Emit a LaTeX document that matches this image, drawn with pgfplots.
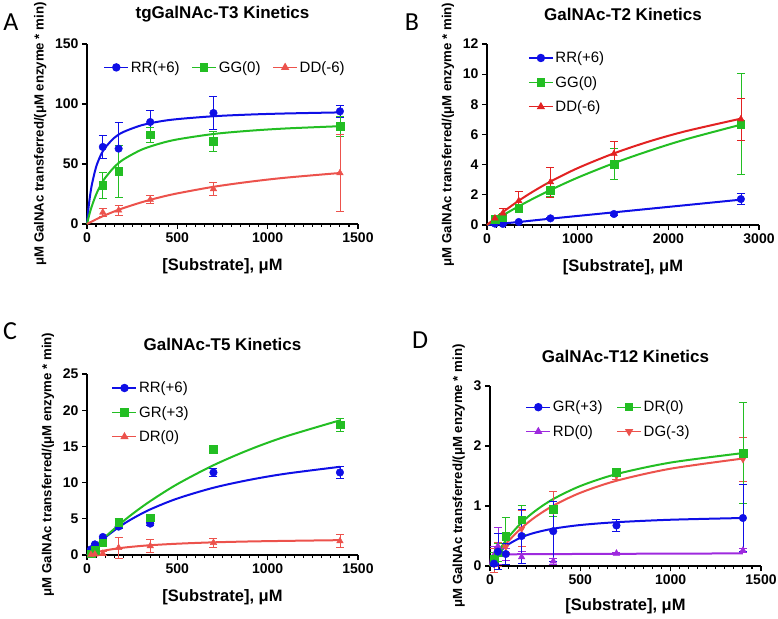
\documentclass[border=0pt]{standalone}
\usepackage{fontspec}
\setmainfont{Liberation Sans}
\newfontfamily\letterfont{Carlito}
\usepackage{pgfplots}
\pgfplotsset{compat=1.18}

\definecolor{cblue}{RGB}{15,15,230}
\definecolor{cgreen}{RGB}{35,190,35}
\definecolor{cred}{RGB}{236,82,76}
\definecolor{cdred}{RGB}{226,34,34}
\definecolor{cpurple}{RGB}{158,42,222}

\pgfplotsset{
  kin/.style={
    scale only axis,
    anchor=south west,
    axis x line*=bottom, axis y line*=left,
    axis line style={line width=1.4pt},
    tick align=outside,
    major tick length=5pt, minor tick length=3pt,
    every tick/.style={black, line width=1.1pt},
    minor x tick num=9, minor y tick num=0,
    xmin=0, ymin=0,
    ticklabel style={font=\bfseries\fontsize{14}{16}\selectfont},
    /pgf/number format/assume math mode=true,
    /pgf/number format/1000 sep={},
    xlabel={[Substrate], μM},
    ylabel={μM GalNAc transferred/(μM enzyme * min)},
    xlabel style={font=\bfseries\fontsize{16.5}{18}\selectfont, yshift=-9pt},
    ylabel style={font=\bfseries\fontsize{13.2}{15}\selectfont, yshift=2pt},
    title style={font=\bfseries\fontsize{17}{19}\selectfont, at={(0.5,1)}, anchor=center, yshift=24pt},
    legend style={draw=none, fill=none, font=\fontsize{15}{17}\selectfont,
      /tikz/row sep=8pt},
    legend cell align=left,
    legend image code/.code={\draw[mark repeat=2,mark phase=2,#1] plot coordinates {(0pt,0pt) (12pt,0pt) (24pt,0pt)};},
    clip=false,
  },
  curve/.style={line width=2pt, smooth, no marks, forget plot},
  pts/.style={only marks, forget plot, mark size=3.8pt,
    error bars/y dir=both, error bars/y explicit,
    error bars/error bar style={line width=0.7pt},
    error bars/error mark options={rotate=90, mark size=4pt, line width=0.7pt}},
  leg/.style={line width=1.2pt, mark size=3.6pt},
}

\begin{document}
\begin{tikzpicture}
\useasboundingbox (0,0) rectangle (778pt,618pt);

% panel letters
\node[font=\letterfont\fontsize{26}{28}\selectfont] at (11pt,596pt) {A};
\node[font=\letterfont\fontsize{26}{28}\selectfont] at (412pt,596pt) {B};
\node[font=\letterfont\fontsize{26}{28}\selectfont] at (10pt,287pt) {C};
\node[font=\letterfont\fontsize{26}{28}\selectfont] at (420pt,278pt) {D};

% A
\begin{axis}[kin, at={(87pt,394pt)}, width=271pt, height=180pt,
  xmax=1500, ymax=150, xtick={0,500,1000,1500}, ytick={0,50,100,150},
  title={tgGalNAc-T3 Kinetics},
  legend columns=3,
  legend style={at={(0.51,0.87)}, anchor=center,
    /tikz/every even column/.append style={column sep=10pt}}]
\addplot[curve, cblue] coordinates {(0,0) (10,15.6) (25,31.3) (50,47.3) (75,57.0) (100,63.5) (150,71.7) (200,76.6) (300,82.2) (400,85.4) (500,87.4) (700,89.8) (900,91.2) (1100,92.1) (1400,93.0)};
\addplot[curve, cgreen] coordinates {(0,0) (10,6.24) (25,14.1) (50,24.4) (75,32.2) (100,38.3) (150,47.3) (200,53.6) (300,61.8) (400,66.9) (500,70.5) (700,75.0) (900,77.7) (1100,79.6) (1400,81.5)};
\addplot[curve, cred] coordinates {(0,0) (50,3.86) (100,7.3) (150,10.4) (200,13.2) (300,18.0) (400,22.1) (500,25.5) (700,31.0) (900,35.2) (1100,38.6) (1400,42.5)};
\addplot[pts, cblue, mark=*] coordinates {(87.5,64.2) +- (0,9.3) (175,62.8) +- (0,21.7) (350,85) +- (0,9.5) (700,92.5) +- (0,14) (1400,93.9) +- (0,4.7)};
\addplot[pts, cgreen, mark=square*] coordinates {(87.5,32.2) +- (0,11) (175,43.9) +- (0,21.5) (350,74.4) +- (0,6.5) (700,68.9) +- (0,8) (1400,81.4) +- (0,8)};
\addplot[pts, cred, mark=triangle*] coordinates {(87.5,9.7) +- (0,3.5) (175,11.4) +- (0,4.5) (350,20.3) +- (0,3.5) (700,29.2) +- (0,5.5) (1400,42.5) +- (0,32)};
\addlegendimage{leg, cblue, mark=*}\addlegendentry{RR(+6)}
\addlegendimage{leg, cgreen, mark=square*}\addlegendentry{GG(0)}
\addlegendimage{leg, cred, mark=triangle*}\addlegendentry{DD(-6)}
\end{axis}

% B
\begin{axis}[kin, at={(487pt,393pt)}, width=272pt, height=181pt,
  xmax=3000, ymax=12, xtick={0,1000,2000,3000}, ytick={0,2,...,12},
  title={GalNAc-T2 Kinetics},
  legend style={at={(0.14,0.98)}, anchor=north west}]
\addplot[curve, cblue] coordinates {(0,0) (350,0.2) (700,0.42) (1400,0.84) (2100,1.26) (2800,1.68)};
\addplot[curve, cgreen] coordinates {(0,0) (100,0.374) (200,0.732) (350,1.24) (500,1.72) (700,2.32) (1000,3.14) (1400,4.10) (1800,4.94) (2200,5.69) (2800,6.65)};
\addplot[curve, cdred] coordinates {(0,0) (100,0.50) (200,0.967) (350,1.61) (500,2.19) (700,2.88) (1000,3.77) (1400,4.75) (1800,5.56) (2200,6.23) (2800,7.05)};
\addplot[pts, cblue, mark=*] coordinates {(87.5,0.09) +- (0,0.05) (175,0.07) +- (0,0.05) (350,0.2) +- (0,0.05) (700,0.44) +- (0,0.08) (1400,0.73) +- (0,0.1) (2800,1.72) +- (0,0.35)};
\addplot[pts, cgreen, mark=square*] coordinates {(87.5,0.38) +- (0,0.1) (175,0.5) +- (0,0.15) (350,1.1) +- (0,0.25) (700,2.32) +- (0,0.45) (1400,4.05) +- (0,1.0) (2800,6.7) +- (0,3.35)};
\addplot[pts, cdred, mark=triangle*] coordinates {(87.5,0.45) +- (0,0.15) (175,0.78) +- (0,0.3) (350,1.6) +- (0,0.6) (700,2.85) +- (0,1.0) (1400,4.72) +- (0,0.8) (2800,7.02) +- (0,1.4)};
\addlegendimage{leg, cblue, mark=*}\addlegendentry{RR(+6)}
\addlegendimage{leg, cgreen, mark=square*}\addlegendentry{GG(0)}
\addlegendimage{leg, cdred, mark=triangle*}\addlegendentry{DD(-6)}
\end{axis}

% C
\begin{axis}[kin, at={(87pt,63pt)}, width=271pt, height=181pt,
  xmax=1500, ymax=25, xtick={0,500,1000,1500}, ytick={0,5,...,25},
  title={GalNAc-T5 Kinetics},
  legend style={at={(0.08,0.98)}, anchor=north west}]
\addplot[curve, cblue] coordinates {(0,0) (25,0.67) (50,1.29) (100,2.41) (175,3.83) (250,5.0) (350,6.30) (500,7.80) (700,9.29) (900,10.38) (1100,11.23) (1400,12.18)};
\addplot[curve, cgreen] coordinates {(0,0) (25,0.65) (50,1.28) (100,2.48) (175,4.13) (250,5.64) (350,7.44) (500,9.79) (700,12.4) (900,14.56) (1100,16.37) (1400,18.6)};
\addplot[curve, cred] coordinates {(0,0) (25,0.196) (50,0.363) (100,0.633) (175,0.93) (250,1.14) (350,1.35) (500,1.56) (700,1.75) (900,1.87) (1100,1.95) (1400,2.05)};
\addplot[pts, cblue, mark=*] coordinates {(21.9,0.78) +- (0,0.1) (43.75,1.47) +- (0,0.1) (87.5,2.49) +- (0,0.15) (175,3.92) +- (0,0.3) (350,4.33) +- (0,0.2) (700,11.4) +- (0,0.5) (1400,11.4) +- (0,0.85)};
\addplot[pts, cgreen, mark=square*] coordinates {(21.9,0.2) +- (0,0.1) (43.75,0.7) +- (0,0.1) (87.5,1.7) +- (0,0.2) (175,4.47) +- (0,0.6) (350,5.16) +- (0,0.2) (700,14.6) +- (0,0.3) (1400,17.97) +- (0,0.9)};
\addplot[pts, cred, mark=triangle*] coordinates {(21.9,0.05) +- (0,0.1) (43.75,0.1) +- (0,0.1) (87.5,0.2) +- (0,0.3) (175,1.0) +- (0,1.4) (350,1.25) +- (0,0.9) (700,1.7) +- (0,0.6) (1400,1.93) +- (0,0.9)};
\addlegendimage{leg, cblue, mark=*}\addlegendentry{RR(+6)}
\addlegendimage{leg, cgreen, mark=square*}\addlegendentry{GR(+3)}
\addlegendimage{leg, cred, mark=triangle*}\addlegendentry{DR(0)}
\end{axis}

% D
\begin{axis}[kin, at={(490pt,52pt)}, width=271pt, height=180pt,
  xmax=1500, ymax=3, xtick={0,500,1000,1500}, ytick={0,1,2,3},
  title={GalNAc-T12 Kinetics},
  xlabel style={yshift=2pt},
  legend columns=2,
  legend style={at={(0.12,0.94)}, anchor=north west,
    /tikz/every even column/.append style={column sep=12pt}}]
\addplot[curve, cpurple] coordinates {(0,0) (5,0.12) (12,0.17) (25,0.19) (100,0.195) (700,0.203) (1400,0.21)};
\addplot[curve, cblue] coordinates {(0,0) (25,0.128) (50,0.223) (100,0.357) (175,0.48) (250,0.556) (350,0.622) (500,0.683) (700,0.73) (1000,0.771) (1400,0.80)};
\addplot[curve, cred] coordinates {(0,0) (25,0.117) (50,0.223) (100,0.409) (175,0.635) (250,0.815) (350,1.006) (500,1.22) (700,1.421) (1000,1.622) (1400,1.791)};
\addplot[curve, cgreen] coordinates {(0,0) (25,0.139) (50,0.262) (100,0.474) (175,0.724) (250,0.917) (350,1.116) (500,1.333) (700,1.532) (1000,1.724) (1400,1.882)};
\addplot[pts, cpurple, mark=triangle*] coordinates {(21.9,0.18) +- (0,0.15) (43.75,0.33) +- (0,0.31) (87.5,0.2) +- (0,0.1) (175,0.15) +- (0,0.1) (350,0.08) +- (0,0.05) (700,0.21) +- (0,0.02) (1400,0.26) +- (0,0.03)};
\addplot[pts, cred, mark=triangle*, mark options={rotate=180}] coordinates {(21.9,0.1) +- (0,0.2) (43.75,0.2) +- (0,0.2) (87.5,0.32) +- (0,0.1) (175,0.62) +- (0,0.3) (350,0.92) +- (0,0.32) (700,1.5) +- (0,0.05) (1400,1.78) +- (0,0.37)};
\addplot[pts, cgreen, mark=square*] coordinates {(21.9,0.12) +- (0,0.1) (43.75,0.22) +- (0,0.15) (87.5,0.5) +- (0,0.31) (175,0.77) +- (0,0.24) (350,0.95) +- (0,0.12) (700,1.56) +- (0,0.03) (1400,1.88) +- (0,0.84)};
\addplot[pts, cblue, mark=*] coordinates {(21.9,0.04) +- (0,0.03) (43.75,0.24) +- (0,0.3) (87.5,0.2) +- (0,0.18) (175,0.5) +- (0,0.45) (350,0.58) +- (0,0.5) (700,0.675) +- (0,0.1) (1400,0.8) +- (0,0.56)};
\addlegendimage{leg, cblue, mark=*}\addlegendentry{GR(+3)}
\addlegendimage{leg, cgreen, mark=square*}\addlegendentry{DR(0)}
\addlegendimage{leg, cpurple, mark=triangle*}\addlegendentry{RD(0)}
\addlegendimage{leg, cred, mark=triangle*, mark options={rotate=180}}\addlegendentry{DG(-3)}
\end{axis}
\end{tikzpicture}
\end{document}
